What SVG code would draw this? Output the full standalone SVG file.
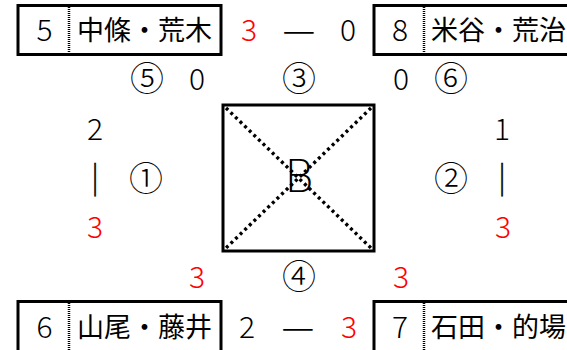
<svg xmlns="http://www.w3.org/2000/svg" width="567" height="350" viewBox="0 0 567 350">
<style>
.box{fill:#fff;stroke:#000;stroke-width:3}
.div{stroke:#000;stroke-width:2.5;stroke-dasharray:1 1}
.t{font-family:"Noto Sans CJK JP","Noto Sans CJK SC",sans-serif;fill:#000;font-weight:300}
.d{font-size:30px;text-anchor:middle}
.n{font-size:27px;font-weight:400}
.c{font-size:34px;text-anchor:middle}
.m{font-size:37px;text-anchor:middle}
.bar{font-size:30px;text-anchor:middle;stroke:#000;stroke-width:0.4}
.r{fill:#ff0000}
.diag{stroke:#000;stroke-width:3.4;stroke-dasharray:3 3.4;fill:none}
</style>
<rect width="567" height="350" fill="#fff"/>
<g id="team-5">
<rect class="box" x="18" y="5.5" width="203" height="49"/>
<line class="div" x1="69" y1="7" x2="69" y2="53"/>
<text class="t d" x="44.5" y="41">5</text>
<text class="t n" x="77" y="40">中條・荒木</text>
</g>
<g id="team-8">
<rect class="box" x="374" y="5.5" width="230" height="49"/>
<line class="div" x1="424" y1="7" x2="424" y2="53"/>
<text class="t d" x="400" y="41">8</text>
<text class="t n" x="431" y="40">米谷・荒治</text>
</g>
<g id="team-6">
<rect class="box" x="18" y="301.5" width="203" height="55"/>
<line class="div" x1="69" y1="303" x2="69" y2="352"/>
<text class="t d" x="44.5" y="338">6</text>
<text class="t n" x="77" y="337">山尾・藤井</text>
</g>
<g id="team-7">
<rect class="box" x="374" y="301.5" width="230" height="55"/>
<line class="div" x1="424" y1="303" x2="424" y2="352"/>
<text class="t d" x="400" y="338">7</text>
<text class="t n" x="431" y="337">石田・的場</text>
</g>
<g id="court">
<rect x="223" y="105" width="151" height="146" fill="#fff" stroke="#000" stroke-width="3"/>
<text x="299" y="192" font-family="DejaVu Sans, Inter, sans-serif" font-weight="200" font-size="45" text-anchor="middle" fill="#000">B</text>
</g>
<g id="connectors">
<line class="diag" x1="226" y1="108" x2="371" y2="248"/>
<line class="diag" x1="371" y1="108" x2="226" y2="248"/>
</g>
<g id="scores">
<text class="t d r" x="249" y="41">3</text>
<text class="t m" x="299" y="43">—</text>
<text class="t d" x="348" y="41">0</text>
<text class="t c" x="147" y="91">⑤</text>
<text class="t d" x="197" y="90">0</text>
<text class="t c" x="299" y="91">③</text>
<text class="t d" x="401" y="90">0</text>
<text class="t c" x="451" y="91">⑥</text>
<text class="t d" x="95" y="140">2</text>
<text class="t bar" x="95" y="188">|</text>
<text class="t c" x="146" y="191">①</text>
<text class="t d r" x="95" y="238">3</text>
<text class="t d" x="502" y="140">1</text>
<text class="t bar" x="502" y="188">|</text>
<text class="t c" x="451" y="191">②</text>
<text class="t d r" x="503" y="238">3</text>
<text class="t d r" x="197" y="288">3</text>
<text class="t c" x="299" y="289">④</text>
<text class="t d r" x="401" y="288">3</text>
<text class="t d" x="247" y="338">2</text>
<text class="t m" x="298" y="340">—</text>
<text class="t d r" x="349" y="338">3</text>
</g>
</svg>
